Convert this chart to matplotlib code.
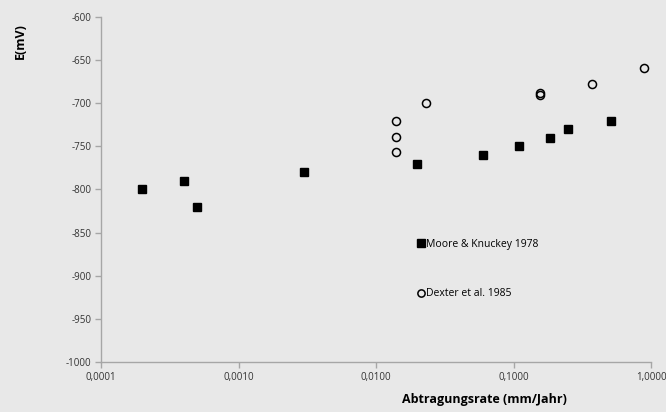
import numpy as np
import matplotlib.pyplot as plt
from matplotlib.ticker import FixedLocator, FuncFormatter, NullLocator

# Moore & Knuckey 1978
moore_rate = [0.0002, 0.0004, 0.0005, 0.003, 0.02, 0.06, 0.11, 0.185, 0.25, 0.51]
moore_e = [-800, -790, -820, -780, -770, -760, -750, -740, -730, -720]

# Dexter et al. 1985
dexter_rate = [0.014, 0.014, 0.014, 0.023, 0.155, 0.155, 0.37, 0.89]
dexter_e = [-720, -739, -757, -700, -688, -690, -678, -659]

x_ticks = [0.0001, 0.001, 0.01, 0.1, 1.0]
y_ticks = [-1000, -950, -900, -850, -800, -750, -700, -650, -600]

bg = "#e8e8e8"
axis_col = "#a6a6a6"

plt.rcParams['font.family'] = ['Open Sans', 'DejaVu Sans']
plt.rcParams['axes.unicode_minus'] = False

fig = plt.figure(figsize=(6.66, 4.12), dpi=100, facecolor=bg)
ax = fig.add_axes([0.1517, 0.1214, 0.8258, 0.8373], facecolor=bg)

ax.plot(moore_rate, moore_e, linestyle="none", marker="s", markersize=6.2,
        color="black", label="Moore & Knuckey 1978")
ax.plot(dexter_rate, dexter_e, linestyle="none", marker="o", markersize=5.8,
        markerfacecolor="none", markeredgecolor="black", markeredgewidth=1.1,
        label="Dexter et al. 1985")

ax.set_xscale("log")
ax.set_xlim(0.0001, 1.0)
ax.set_ylim(-1000, -600)
ax.xaxis.set_major_locator(FixedLocator(x_ticks))
ax.xaxis.set_minor_locator(NullLocator())
ax.xaxis.set_major_formatter(FuncFormatter(lambda v, p: f"{v:.4f}".replace(".", ",")))
ax.yaxis.set_major_locator(FixedLocator(y_ticks))

for s in ["top", "right"]:
    ax.spines[s].set_visible(False)
for s in ["left", "bottom"]:
    ax.spines[s].set_color(axis_col)
    ax.spines[s].set_linewidth(1.0)
ax.tick_params(axis="both", colors=axis_col, labelcolor="#333333", labelsize=7,
               length=4, width=1.0, direction="out", pad=3)

fig.text(0.03, 0.90, "E(mV)", rotation=90, fontsize=9, fontweight="bold",
         ha="center", va="center")
fig.text(0.727, 0.03, "Abtragungsrate (mm/Jahr)", fontsize=9, fontweight="bold",
         ha="center", va="center")

leg = ax.legend(loc="upper left", bbox_to_anchor=(0.566, 0.372), frameon=False,
                fontsize=7.5, handlelength=0.6, handletextpad=0.25,
                labelspacing=3.7, borderpad=0, markerscale=0.9)

fig.savefig("out.png", dpi=100, facecolor=bg)
